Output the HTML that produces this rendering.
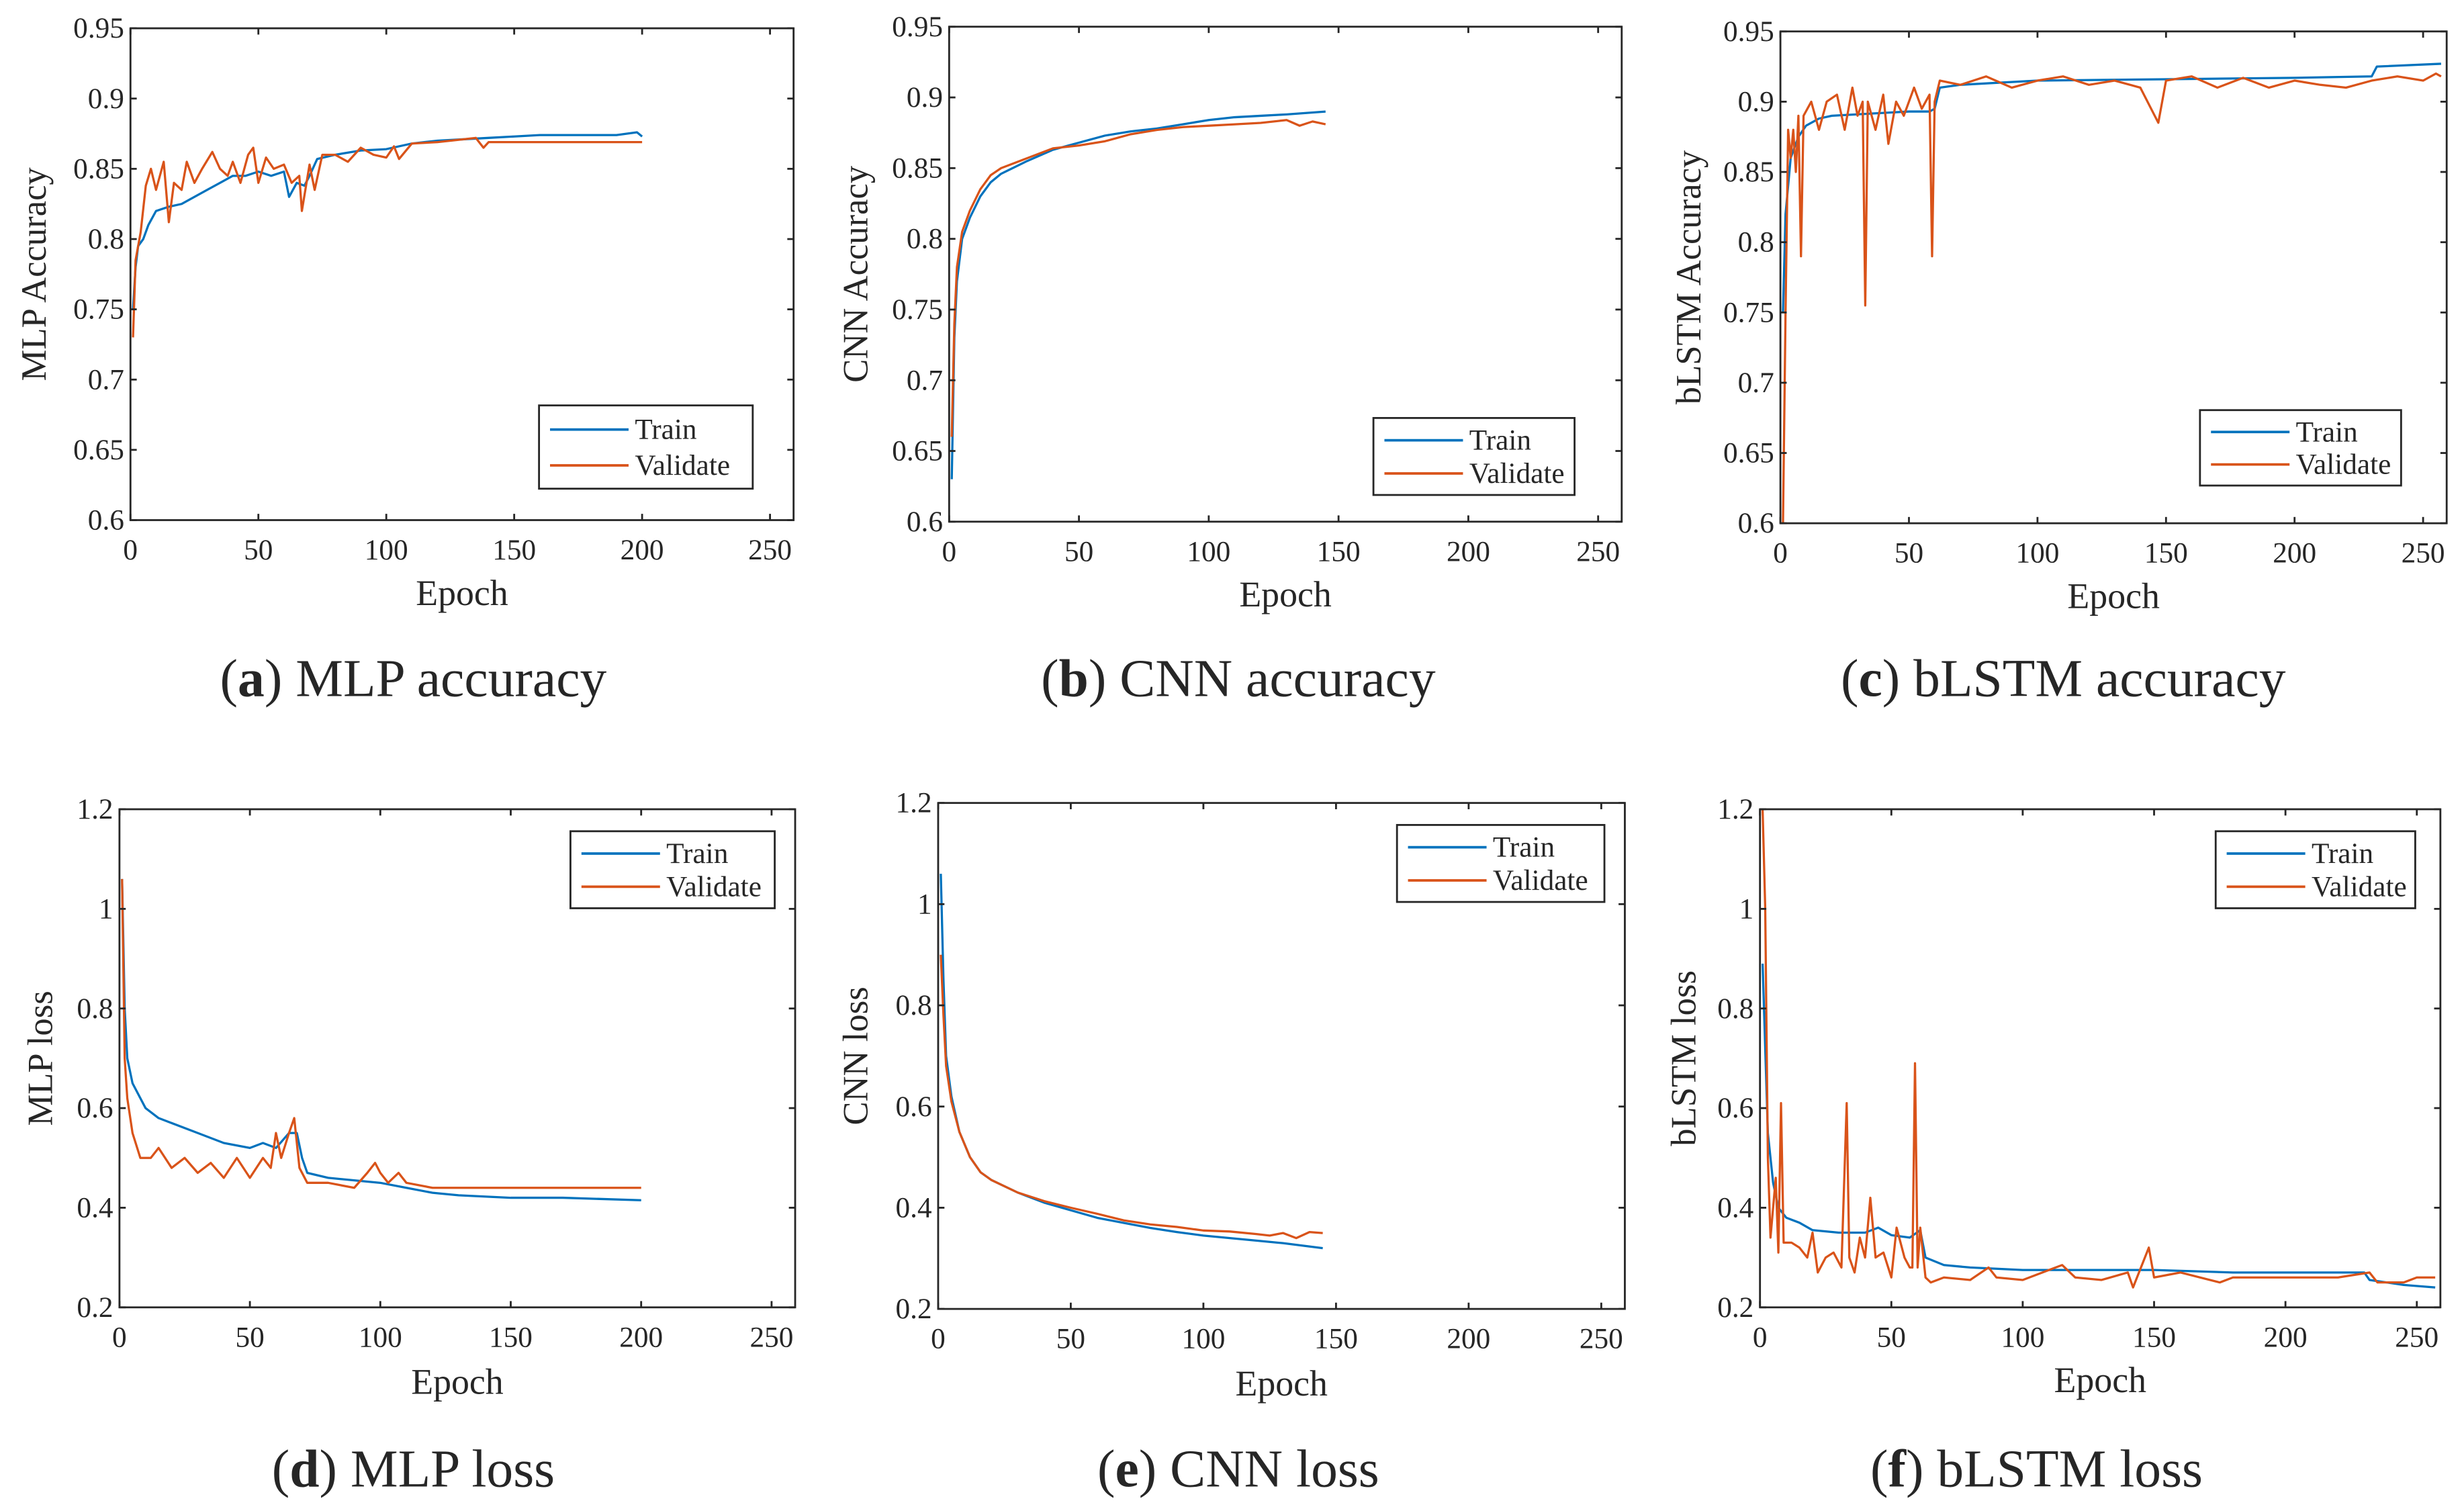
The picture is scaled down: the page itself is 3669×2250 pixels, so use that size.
<!DOCTYPE html>
<html><head><meta charset="utf-8"><style>
html,body{margin:0;padding:0;background:#fff;}
svg{display:block;}
text{font-family:"Liberation Serif",serif;fill:#262626;}
</style></head><body>
<svg id="fig" width="3669" height="2250" viewBox="0 0 1568 961.6" xmlns="http://www.w3.org/2000/svg"></svg>
<script>
// ---- data (epoch arrays + value arrays) ----
const aTrainX=[1,2,3,5,7,10,15,20,25,30,35,40,45,50,55,60,62,65,68,70,73,80,90,100,110,120,130,140,150,160,170,180,190,198,200];
const aTrainY=[0.75,0.78,0.795,0.80,0.81,0.82,0.823,0.825,0.83,0.835,0.84,0.845,0.845,0.848,0.845,0.848,0.83,0.84,0.838,0.845,0.857,0.86,0.863,0.864,0.868,0.87,0.871,0.872,0.873,0.874,0.874,0.874,0.874,0.876,0.873];
const aValX=[1,2,4,6,8,10,13,15,17,20,22,25,28,32,35,38,40,43,46,48,50,53,56,60,63,66,67,70,72,75,80,85,90,95,100,103,105,110,120,135,138,140,150,170,200];
const aValY=[0.73,0.785,0.805,0.838,0.85,0.835,0.855,0.812,0.84,0.835,0.855,0.84,0.85,0.862,0.85,0.845,0.855,0.84,0.86,0.865,0.84,0.858,0.85,0.853,0.84,0.845,0.82,0.853,0.835,0.86,0.86,0.855,0.865,0.86,0.858,0.866,0.857,0.868,0.869,0.872,0.865,0.869,0.869,0.869,0.869];

const bTrainX=[1,2,3,5,8,12,16,20,30,40,50,60,70,80,90,100,110,120,130,145];
const bTrainY=[0.63,0.73,0.77,0.80,0.815,0.83,0.84,0.846,0.855,0.863,0.868,0.873,0.876,0.878,0.881,0.884,0.886,0.887,0.888,0.89];
const bValX=[1,2,3,5,8,12,16,20,30,40,50,60,70,80,90,100,110,120,130,135,140,145];
const bValY=[0.66,0.74,0.78,0.805,0.82,0.835,0.845,0.85,0.857,0.864,0.866,0.869,0.874,0.877,0.879,0.88,0.881,0.882,0.884,0.88,0.883,0.881];

const cTrainX=[1,2,4,7,10,15,20,30,40,50,58,60,62,70,100,150,200,230,232,257];
const cTrainY=[0.75,0.82,0.86,0.875,0.883,0.888,0.89,0.891,0.892,0.893,0.893,0.895,0.91,0.912,0.915,0.916,0.917,0.918,0.925,0.927];
const cValX=[1,2,3,4,5,6,7,8,9,12,15,18,22,25,28,30,32,33,34,37,40,42,45,48,52,55,58,59,60,62,70,80,90,100,110,120,130,140,147,150,160,170,180,190,200,210,220,230,240,250,255,257];
const cValY=[0.6,0.75,0.88,0.86,0.88,0.85,0.89,0.79,0.89,0.9,0.88,0.9,0.905,0.88,0.91,0.89,0.9,0.755,0.9,0.88,0.905,0.87,0.9,0.89,0.91,0.895,0.905,0.79,0.9,0.915,0.912,0.918,0.91,0.915,0.918,0.912,0.915,0.91,0.885,0.915,0.918,0.91,0.917,0.91,0.915,0.912,0.91,0.915,0.918,0.915,0.92,0.918];

const dTrainX=[1,2,3,5,8,10,15,20,30,40,50,55,60,65,68,70,72,80,90,100,110,120,130,150,170,200];
const dTrainY=[1.06,0.8,0.7,0.65,0.62,0.6,0.58,0.57,0.55,0.53,0.52,0.53,0.52,0.55,0.55,0.5,0.47,0.46,0.455,0.45,0.44,0.43,0.425,0.42,0.42,0.415];
const dValX=[1,2,3,5,8,12,15,20,25,30,35,40,45,50,55,58,60,62,65,67,69,72,80,90,95,98,100,103,107,110,120,150,200];
const dValY=[1.06,0.7,0.62,0.55,0.5,0.5,0.52,0.48,0.5,0.47,0.49,0.46,0.5,0.46,0.5,0.48,0.55,0.5,0.55,0.58,0.48,0.45,0.45,0.44,0.47,0.49,0.47,0.45,0.47,0.45,0.44,0.44,0.44];

const eTrainX=[1,2,3,5,8,12,16,20,30,40,50,60,70,80,90,100,110,120,130,145];
const eTrainY=[1.06,0.85,0.7,0.62,0.55,0.5,0.47,0.455,0.43,0.41,0.395,0.38,0.37,0.36,0.352,0.345,0.34,0.335,0.33,0.32];
const eValX=[1,2,3,5,8,12,16,20,30,40,50,60,70,80,90,100,110,120,125,130,135,140,145];
const eValY=[0.9,0.78,0.68,0.61,0.55,0.5,0.47,0.455,0.43,0.413,0.4,0.388,0.375,0.367,0.362,0.355,0.353,0.348,0.345,0.35,0.34,0.352,0.35];

const fTrainX=[1,2,3,5,7,10,15,20,30,40,45,50,57,61,63,70,80,100,120,150,180,200,230,232,245,257];
const fTrainY=[0.89,0.72,0.55,0.45,0.4,0.38,0.37,0.355,0.35,0.35,0.36,0.345,0.34,0.355,0.3,0.285,0.28,0.275,0.275,0.275,0.27,0.27,0.27,0.255,0.245,0.24];
const fValX=[1,2,3,4,5,6,7,8,9,12,15,18,20,22,25,28,31,33,34,36,38,40,42,44,47,50,52,55,57,58,59,60,61,63,65,70,80,87,90,100,115,120,130,140,142,148,150,160,175,180,200,220,232,235,245,250,257];
const fValY=[1.2,1.0,0.5,0.34,0.4,0.46,0.31,0.61,0.33,0.33,0.32,0.3,0.35,0.27,0.3,0.31,0.28,0.61,0.3,0.27,0.34,0.3,0.42,0.3,0.31,0.26,0.36,0.3,0.28,0.28,0.69,0.28,0.36,0.26,0.25,0.26,0.255,0.28,0.26,0.255,0.285,0.26,0.255,0.27,0.24,0.32,0.26,0.27,0.25,0.26,0.26,0.26,0.27,0.25,0.25,0.26,0.26];

const xTicks=[0,50,100,150,200,250];
const accTicks=[0.6,0.65,0.7,0.75,0.8,0.85,0.9,0.95];
const accLabels=["0.6","0.65","0.7","0.75","0.8","0.85","0.9","0.95"];
const lossTicks=[0.2,0.4,0.6,0.8,1.0,1.2];
const lossLabels=["0.2","0.4","0.6","0.8","1","1.2"];

const BLUE="#0072BD", ORANGE="#D95319";
const NS="http://www.w3.org/2000/svg";
const svg=document.getElementById('fig');
function mk(tag,attrs,parent){const e=document.createElementNS(NS,tag);for(const k in attrs)e.setAttribute(k,attrs[k]);(parent||svg).appendChild(e);return e;}

const panels=[
 {id:'a',L:83,R:505,T:18,B:331,x250:490,ymin:0.6,ymax:0.95,yt:accTicks,yl:accLabels,ylab:'MLP Accuracy',ylx:22,exy:377,cap:['a',' MLP accuracy'],cx:263,cy:432,leg:[343,258,479,311],tr:[aTrainX,aTrainY],va:[aValX,aValY]},
 {id:'b',L:604,R:1032,T:17,B:332,x250:1017,ymin:0.6,ymax:0.95,yt:accTicks,yl:accLabels,ylab:'CNN Accuracy',ylx:545,exy:378,cap:['b',' CNN accuracy'],cx:788,cy:432,leg:[874,266,1002,315],tr:[bTrainX,bTrainY],va:[bValX,bValY]},
 {id:'c',L:1133,R:1557,T:20,B:333,x250:1542,ymin:0.6,ymax:0.95,yt:accTicks,yl:accLabels,ylab:'bLSTM Accuracy',ylx:1075,exy:379,cap:['c',' bLSTM accuracy'],cx:1313,cy:432,leg:[1400,261,1528,309],tr:[cTrainX,cTrainY],va:[cValX,cValY]},
 {id:'d',L:76,R:506,T:515,B:832,x250:491,ymin:0.2,ymax:1.2,yt:lossTicks,yl:lossLabels,ylab:'MLP loss',ylx:26,exy:879,cap:['d',' MLP loss'],cx:263,cy:935,leg:[363,529,493,578],tr:[dTrainX,dTrainY],va:[dValX,dValY]},
 {id:'e',L:597,R:1034,T:511,B:833,x250:1019,ymin:0.2,ymax:1.2,yt:lossTicks,yl:lossLabels,ylab:'CNN loss',ylx:545,exy:880,cap:['e',' CNN loss'],cx:788,cy:935,leg:[889,525,1021,574],tr:[eTrainX,eTrainY],va:[eValX,eValY]},
 {id:'f',L:1120,R:1553,T:515,B:832,x250:1538,ymin:0.2,ymax:1.2,yt:lossTicks,yl:lossLabels,ylab:'bLSTM loss',ylx:1072,exy:878,cap:['f',' bLSTM loss'],cx:1296,cy:935,leg:[1410,529,1537,578],tr:[fTrainX,fTrainY],va:[fValX,fValY]}
];

panels.forEach(p=>{
  const g=mk('g',{});
  
  
  const sx=v=>p.L+(p.x250-p.L)*v/250;
  const sy=v=>p.B-(p.B-p.T)*(v-p.ymin)/(p.ymax-p.ymin);
  [[p.tr,BLUE,'train'],[p.va,ORANGE,'validate']].forEach(([s,col,nm])=>{
    const d=s[0].map((x,i)=>(i?'L':'M')+sx(x).toFixed(2)+' '+sy(s[1][i]).toFixed(2)).join(' ');
    const path=mk('path',{d:d,fill:'none',stroke:col,'stroke-width':1.4,'stroke-linejoin':'round'},g);
    
    
  });
  const box=mk('rect',{x:p.L,y:p.T,width:p.R-p.L,height:p.B-p.T,fill:'none',stroke:'#262626','stroke-width':1.2},g);
  
  
  const tl=4;
  xTicks.forEach(t=>{
    const x=sx(t);
    mk('line',{x1:x,y1:p.B,x2:x,y2:p.B-tl,stroke:'#262626','stroke-width':1.2},g);
    mk('line',{x1:x,y1:p.T,x2:x,y2:p.T+tl,stroke:'#262626','stroke-width':1.2},g);
    const tx=mk('text',{x:x,y:p.B+25,'text-anchor':'middle','font-size':18.5},g);
    tx.textContent=String(t);
    
    
  });
  p.yt.forEach((t,i)=>{
    const y=sy(t);
    mk('line',{x1:p.L,y1:y,x2:p.L+tl,y2:y,stroke:'#262626','stroke-width':1.2},g);
    mk('line',{x1:p.R,y1:y,x2:p.R-tl,y2:y,stroke:'#262626','stroke-width':1.2},g);
    const ty=mk('text',{x:p.L-4,y:y+6,'text-anchor':'end','font-size':18.5},g);
    ty.textContent=p.yl[i];
    
    
  });
  const xl=mk('text',{x:(p.L+p.R)/2,y:p.exy+8,'text-anchor':'middle','font-size':23},g);
  xl.textContent='Epoch';
  
  
  const yc=(p.T+p.B)/2;
  const yl=mk('text',{x:p.ylx+7,y:yc,'text-anchor':'middle','font-size':22.5,transform:'rotate(-90 '+(p.ylx+7)+' '+yc+')'},g);
  yl.textContent=p.ylab;
  
  
  const [lx1,ly1,lx2,ly2]=p.leg;
  const lg=mk('g',{},g);
  
  
  mk('rect',{x:lx1,y:ly1,width:lx2-lx1,height:ly2-ly1,fill:'#fff',stroke:'#262626','stroke-width':1.2},lg);
  const h=(ly2-ly1);
  [['Train',BLUE,ly1+h*0.29],['Validate',ORANGE,ly1+h*0.72]].forEach(([t,c,y])=>{
    const ent=mk('g',{},lg);
    
    
    mk('line',{x1:lx1+7,y1:y,x2:lx1+57,y2:y,stroke:c,'stroke-width':1.6},ent);
    const tt=mk('text',{x:lx1+61,y:y+6,'font-size':18.5},ent);
    tt.textContent=t;
  });
  const cap=mk('text',{x:p.cx,y:p.cy+11,'text-anchor':'middle','font-size':34},g);
  
  
  const t1=mk('tspan',{},cap);t1.textContent='(';
  const t2=mk('tspan',{'font-weight':'bold'},cap);t2.textContent=p.cap[0];
  const t3=mk('tspan',{},cap);t3.textContent=')'+p.cap[1];
});
</script>
</body></html>
